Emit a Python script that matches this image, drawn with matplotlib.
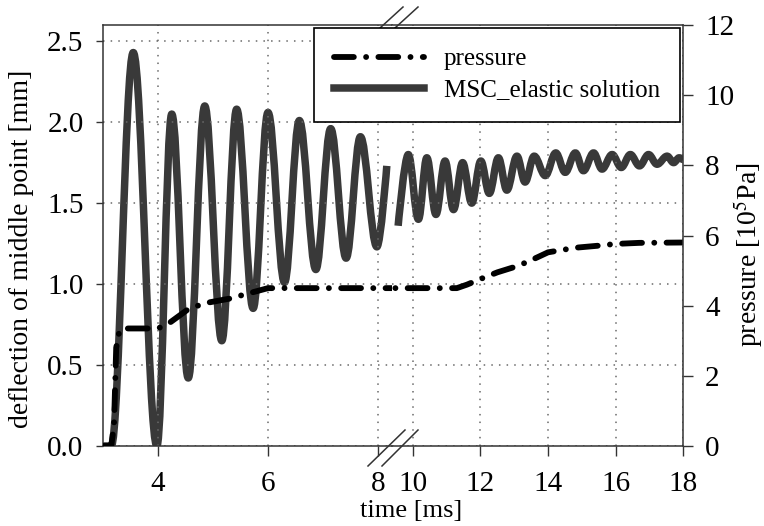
import numpy as np
import matplotlib.pyplot as plt
from matplotlib.path import Path
from matplotlib.patches import PathPatch
from matplotlib.lines import Line2D

plt.rcParams['font.family'] = ['Liberation Serif', 'DejaVu Serif']
plt.rcParams['mathtext.fontset'] = 'stix'

# deflection of middle point [mm], read at the peaks / troughs
t_def_a = [3.0, 3.15, 3.55, 3.98, 4.25, 4.55, 4.85, 5.16, 5.43, 5.73, 6.0, 6.30,
           6.57, 6.87, 7.14, 7.42, 7.68, 7.98, 8.16]
d_def_a = [0.0, 0.0, 2.43, 0.0, 2.05, 0.42, 2.10, 0.65, 2.08, 0.85, 2.06, 1.01,
           2.01, 1.09, 1.96, 1.16, 1.91, 1.23, 1.73]
t_def_b = [9.56, 9.86, 10.16, 10.41, 10.68, 10.95, 11.20, 11.47, 11.74, 12.01,
           12.26, 12.53, 12.78, 13.08, 13.32, 13.59, 13.92, 14.23, 14.51, 14.81,
           15.05, 15.35, 15.60, 15.90, 16.17, 16.44, 16.71, 16.98, 17.23, 17.53,
           17.72, 17.89, 18.0]
d_def_b = [1.36, 1.80, 1.40, 1.78, 1.43, 1.76, 1.46, 1.75, 1.50, 1.76,
           1.56, 1.78, 1.58, 1.79, 1.63, 1.79, 1.67, 1.81, 1.69, 1.81,
           1.70, 1.81, 1.71, 1.80, 1.72, 1.80, 1.73, 1.80, 1.74, 1.79,
           1.75, 1.78, 1.77]

# pressure [10^5 Pa]
t_p = [3.0, 3.15, 3.2, 3.24, 3.3, 3.4, 4.0, 4.2, 4.55, 4.85, 5.3, 5.6, 6.0,
       8.0, 10.0, 11.3, 11.6, 12.0, 12.5, 13.0, 13.4, 14.0, 14.8, 15.5, 16.0,
       16.7, 18.0]
p_p = [0.0, 0.0, 0.6, 2.8, 3.3, 3.35, 3.35, 3.5, 3.9, 4.07, 4.2, 4.33, 4.5,
       4.5, 4.5, 4.5, 4.6, 4.76, 4.95, 5.1, 5.25, 5.52, 5.65, 5.71, 5.76,
       5.79, 5.8]

W, H = 764, 526
fig = plt.figure(figsize=(W / 100, H / 100), dpi=100)


def fx(px):
    return px / W


def fy(py):
    return 1 - py / H


xl, xb, xr, yt, yb = 103, 392, 683, 25, 446
axL = fig.add_axes([fx(xl), fy(yb), (xb - xl) / W, (yb - yt) / H])
axR = fig.add_axes([fx(xb), fy(yb), (xr - xb) / W, (yb - yt) / H])
pL = axL.twinx()
pR = axR.twinx()

axL.set_xlim(3.0, 3.0 + (xb - xl) / 55.0)
axR.set_xlim(10.0 - (413 - xb) / 33.75, 18.0)
for a in (axL, axR):
    a.set_ylim(0, 2.6)
for a in (pL, pR):
    a.set_ylim(0, 12)


def wave_path(t, d, k=0.364, open_start=False, open_end=False):
    verts = [(t[0], d[0])]
    codes = [Path.MOVETO]
    n = len(t)
    for i in range(n - 1):
        dt = t[i + 1] - t[i]
        c1 = (t[i] + k * dt, d[i])
        c2 = (t[i + 1] - k * dt, d[i + 1])
        if open_start and i == 0:
            c1 = (t[0], d[0])
        if open_end and i == n - 2:
            c2 = (t[-1], d[-1])
        verts += [c1, c2, (t[i + 1], d[i + 1])]
        codes += [Path.CURVE4] * 3
    return Path(verts, codes)


dcol = '#393939'
dlw = 5.4
axL.add_patch(PathPatch(wave_path(t_def_a, d_def_a, open_end=True), fill=False,
                        edgecolor=dcol, lw=dlw, joinstyle='round', capstyle='butt'))
axR.add_patch(PathPatch(wave_path(t_def_b, d_def_b, open_start=True), fill=False,
                        edgecolor=dcol, lw=dlw, joinstyle='round', capstyle='butt'))

dash = (0, (3.4, 2.1, 0.01, 2.1))
line_p, = pL.plot(t_p, p_p, color='black', lw=4.2, linestyle=dash,
                  dash_capstyle='round', solid_capstyle='round')
pR.plot(t_p, p_p, color='black', lw=4.2, linestyle=dash,
        dash_capstyle='round', solid_capstyle='round')

# grid, ticks, spines
grid_kw = dict(color='#6a6a6a', linestyle=(0, (1, 4)), lw=1.1)
axL.set_xticks([4, 6, 8])
axR.set_xticks([10, 12, 14, 16, 18])
yt_mm = [0.0, 0.5, 1.0, 1.5, 2.0, 2.5]
fs_tick = 21
for a in (axL, axR):
    a.set_yticks(yt_mm)
    a.grid(True, **grid_kw)
    a.tick_params(axis='x', direction='out', length=7, width=1, pad=11,
                  labelsize=fs_tick, color='#333333')
axL.set_yticklabels(['%.1f' % v for v in yt_mm])
axL.tick_params(axis='y', direction='out', length=5, width=1, pad=9,
                labelsize=fs_tick, color='#333333')
axR.tick_params(axis='y', left=False, labelleft=False)
pL.yaxis.set_visible(False)
pR.set_yticks(np.arange(0, 13, 2))
pR.tick_params(axis='y', direction='out', length=7, width=1, pad=9,
               labelsize=fs_tick, color='#333333')

for s in pL.spines.values():
    s.set_visible(False)
for k, s in pR.spines.items():
    s.set_visible(k == 'right')
axL.spines['right'].set_visible(False)
axR.spines['left'].set_visible(False)
axR.spines['right'].set_visible(False)
for a in (axL, axR, pR):
    for s in a.spines.values():
        s.set_color('#333333')
        s.set_linewidth(1.1)

# axis break marks
for (x0, y0, x1, y1) in [(368, 466, 405, 430), (382, 466, 418, 430),
                         (380, 28, 403, 7), (395, 28, 418, 7)]:
    fig.add_artist(Line2D([fx(x0), fx(x1)], [fy(y0), fy(y1)],
                          transform=fig.transFigure, color='#333333', lw=1.1))

# labels
fig.text(fx(22), fy(249), 'deflection of middle point [mm]', rotation=90,
         ha='center', va='center', fontsize=20)
fig.text(fx(748), fy(255), 'pressure [10$^5$Pa]', rotation=90,
         ha='center', va='center', fontsize=20)
fig.text(fx(411), fy(511), 'time [ms]', ha='center', va='center', fontsize=19)

h_def = Line2D([], [], color=dcol, lw=dlw)
fig.legend([line_p, h_def], ['pressure', 'MSC_elastic solution'],
           loc='upper right', bbox_to_anchor=(fx(680), fy(28)),
           bbox_transform=fig.transFigure, fontsize=18, frameon=True,
           fancybox=False, edgecolor='black', framealpha=1,
           handlelength=3.6, handletextpad=0.8, borderpad=0.8,
           labelspacing=0.34, borderaxespad=0)
fig.legends[0].get_frame().set_linewidth(1.2)

fig.savefig('out.png', dpi=100)
